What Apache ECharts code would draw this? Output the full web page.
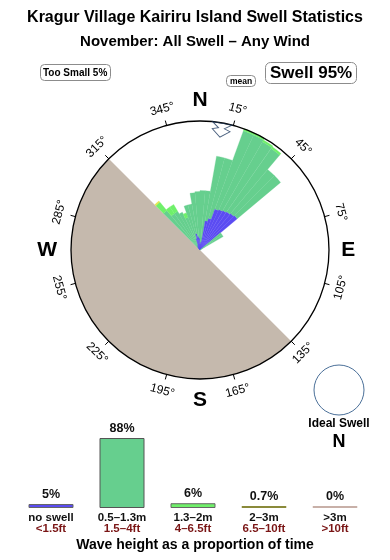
<!DOCTYPE html>
<html><head><meta charset="utf-8">
<script src="https://cdn.jsdelivr.net/npm/echarts@6.0.0/dist/echarts.min.js"></script>
<style>html,body{margin:0;padding:0;background:#fff}#main{width:390px;height:560px}</style>
</head><body><div id="main"></div>
<script>
// ---------------- data ----------------
const titleLines = ['Kragur Village Kairiru Island Swell Statistics', 'November: All Swell \u2013 Any Wind'];
// swell direction bins (start of each 5 degree bin, compass degrees)
const binWidth = 5;
const dirBins      = [315,320,325,330,335,340,345,350,355,  0,  5, 10, 15, 20, 25, 30, 35, 40, 45, 50, 55];
const noSwell      = [  0,  3,  4,  5,  6, 12, 17, 14, 12,  6,  8, 30, 33, 44, 45, 46, 47, 48, 49,  0,  0];
const swell05to13  = [ 52, 42, 41, 37, 29, 35, 30, 44, 47, 54, 52, 66, 63, 84, 83, 80, 78, 58, 57, 27, 27];
const swell13to2   = [ 11,  8,  8,  0,  5,  0,  0,  0,  0,  0,  0,  0,  0,  2,  2,  2,  2,  0,  0,  0,  0];
const swell2to3    = [1.5,  0,  0,  0,  0,  0,  0,  0,  0,  0,  0,  0,  0,  0,  0,  0,  0,  0,  0,  0,  0];
const swell3plus   = [  0,  0,  0,  0,  0,  0,  0,  0,  0,  0,  0,  0,  0,  0,  0,  0,  0,  0,  0,  0,  0];
const roseMax = 130;
const meanDir = 10;
const landSector = [135, 315];           // shadowed directions (clockwise from..to)
const tickDirs = [15,45,75,105,135,165,195,225,255,285,315,345];
const cardinalNames = ['N','E','S','W'];
const cardinalDirs  = [0, 90, 180, 270];
// wave height summary
const heightClasses = ['no swell','0.5\u20131.3m','1.3\u20132m','2\u20133m','>3m'];
const heightFeet    = ['<1.5ft','1.5\u20134ft','4\u20136.5ft','6.5\u201310ft','>10ft'];
const heightPct     = [5, 88, 6, 0.7, 0];
const idealSwellDir = 'N';

// ---------------- chart ----------------
const FONT = '"Liberation Sans", Arial, Helvetica, sans-serif';
const C = [200, 250], R = 129;
const roseColors = ['#5b4cf2', '#66cf8e', '#6ff06a', '#e4e64a', '#c8b0a8'];
const classes = [noSwell, swell05to13, swell13to2, swell2to3, swell3plus];
// stacked radial segments: [binStart, lower, upper, classIndex]
const roseData = [];
dirBins.forEach((d, i) => {
  let acc = 0;
  classes.forEach((arr, k) => {
    const v = arr[i];
    if (v > 0) roseData.push([d, acc, acc + v, k]);
    acc += v;
  });
});
const legendColors  = ['#5b4cf2', '#66cf8e', '#6ff06a', '#8a8a3a', '#c8b0a8'];
const legendBorders = ['#666666', '#555555', '#666666', '#8a8a3a', '#c8b0a8'];
const landSpan = (landSector[1] - landSector[0] + 360) % 360;

function renderRose(params, api) {
  const cs = params.coordSys;
  const a0 = api.value(0), lo = api.value(1), hi = api.value(2), k = api.value(3);
  const pa = api.coord([roseMax, a0]);
  const pb = api.coord([roseMax, a0 + binWidth]);
  const pl = api.coord([lo, a0 + binWidth / 2]);
  const ph = api.coord([hi, a0 + binWidth / 2]);
  const r0 = Math.hypot(pl[0] - cs.cx, pl[1] - cs.cy);
  const r1 = Math.hypot(ph[0] - cs.cx, ph[1] - cs.cy);
  const s = Math.atan2(pa[1] - cs.cy, pa[0] - cs.cx);
  let e = Math.atan2(pb[1] - cs.cy, pb[0] - cs.cx);
  if (e < s) e += 2 * Math.PI;
  return {
    type: 'sector',
    shape: { cx: cs.cx, cy: cs.cy, r0: r0, r: r1, startAngle: s, endAngle: e, clockwise: true },
    style: { fill: roseColors[k], stroke: roseColors[k], lineWidth: 0.3 }
  };
}

const T = (o) => Object.assign({ color: '#000', fontFamily: FONT, fontWeight: 'bold' }, o);
const option = {
  animation: false,
  textStyle: { fontFamily: FONT },
  title: [
    { text: titleLines[0], left: 'center', top: 10, padding: 0, textStyle: T({ fontSize: 16 }) },
    { text: titleLines[1], left: 'center', top: 34, padding: 0, textStyle: T({ fontSize: 15 }) },
    { text: 'Too Small ' + heightPct[0] + '%', left: 40, top: 64, padding: [4, 3, 3, 3], borderColor: '#8c8c8c', borderWidth: 1, borderRadius: 4, textStyle: T({ fontSize: 10 }) },
    { text: 'mean', left: 226, top: 75, padding: [2, 4, 1, 4], borderColor: '#8c8c8c', borderWidth: 1, borderRadius: 4, textStyle: T({ fontSize: 8.5 }) },
    { text: 'Swell ' + (100 - heightPct[0]) + '%', left: 265, top: 62, padding: [3, 5, 2, 5], borderColor: '#8c8c8c', borderWidth: 1, borderRadius: 5, textStyle: T({ fontSize: 17 }) },
    { text: 'Ideal Swell', left: 339, textAlign: 'center', top: 418, padding: 0, textStyle: T({ fontSize: 12 }) },
    { text: idealSwellDir, left: 339, textAlign: 'center', top: 433, padding: 0, textStyle: T({ fontSize: 18 }) },
    { text: 'Wave height as a proportion of time', left: 'center', top: 538, padding: 0, textStyle: T({ fontSize: 14 }) }
  ],
  polar: [
    { center: C, radius: R },
    { center: C, radius: R },
    { center: C, radius: R },
    { center: [339, 390], radius: 25 }
  ],
  angleAxis: [
    { polarIndex: 0, type: 'value', min: 0, max: 360, startAngle: 90, clockwise: true, z: 6,
      axisLine: { lineStyle: { color: '#000', width: 1.3 } }, axisTick: { show: false }, axisLabel: { show: false }, splitLine: { show: false } },
    { polarIndex: 1, type: 'value', min: 0, max: 360, startAngle: 90, clockwise: true, show: false },
    { polarIndex: 2, type: 'value', min: 0, max: 360, interval: 30, startAngle: 90 - tickDirs[0], clockwise: true, z: 6,
      axisLine: { show: false }, axisTick: { show: true, length: 5, lineStyle: { color: '#000', width: 1 } }, axisLabel: { show: false }, splitLine: { show: false } },
    { polarIndex: 3, type: 'value', min: 0, max: 360, startAngle: 90, z: 6,
      axisLine: { lineStyle: { color: '#4a6f98', width: 1 } }, axisTick: { show: false }, axisLabel: { show: false }, splitLine: { show: false } }
  ],
  radiusAxis: [
    { polarIndex: 0, type: 'value', min: 0, max: roseMax, show: false },
    { polarIndex: 1, type: 'value', min: 0, max: 1, show: false },
    { polarIndex: 2, type: 'value', min: 0, max: 1, show: false },
    { polarIndex: 3, type: 'value', min: 0, max: 1, show: false }
  ],
  grid: { left: 15.5, right: 19.5, top: 438, bottom: 52 },
  xAxis: {
    type: 'category', data: heightClasses, axisLine: { show: false }, axisTick: { show: false },
    axisLabel: {
      margin: 4, interval: 0,
      formatter: (v, i) => '{m|' + v + '}\n{f|' + heightFeet[i] + '}',
      rich: {
        m: { fontSize: 11.5, fontWeight: 'bold', color: '#111', lineHeight: 11.5, fontFamily: FONT },
        f: { fontSize: 11.5, fontWeight: 'bold', color: '#7a1515', lineHeight: 11.5, fontFamily: FONT }
      }
    }
  },
  yAxis: { type: 'value', min: 0, max: 88, show: false },
  series: [
    { type: 'pie', center: C, radius: [0, R], startAngle: 90 - landSector[0], clockwise: true, silent: true, z: 1,
      label: { show: false }, labelLine: { show: false }, emphasis: { disabled: true },
      itemStyle: { borderWidth: 0 },
      data: [ { value: landSpan, itemStyle: { color: '#c5b9ad' } }, { value: 360 - landSpan, itemStyle: { color: 'rgba(0,0,0,0)' } } ] },
    { type: 'custom', coordinateSystem: 'polar', polarIndex: 0, silent: true, z: 3,
      data: roseData, encode: { radius: [1, 2], angle: 0 }, renderItem: renderRose },
    { type: 'scatter', coordinateSystem: 'polar', polarIndex: 1, silent: true, z: 7,
      data: [[0.943, meanDir]],
      symbol: 'path://M0,0 L7,5 L1,7 L10,14 L19,7 L13,5 L20,0 Z', symbolSize: [20, 14], symbolRotate: -meanDir,
      itemStyle: { color: 'rgba(255,255,255,0)', borderColor: '#1e3a5f', borderWidth: 1 } },
    { type: 'bar', xAxisIndex: 0, yAxisIndex: 0, barWidth: 45, barMinHeight: 2, silent: true,
      data: heightPct.map((v, i) => ({ value: v, itemStyle: { color: legendColors[i], borderColor: legendBorders[i], borderWidth: 1 } })),
      label: { show: true, position: 'top', distance: 3, formatter: (p) => heightPct[p.dataIndex] + '%',
               fontSize: 12.5, fontWeight: 'bold', color: '#111', fontFamily: FONT } }
  ]
};

const chart = echarts.init(document.getElementById('main'), null, { renderer: 'canvas' });
chart.setOption(option);

const gfx = [];
tickDirs.forEach((d) => {
  const p = chart.convertToPixel({ polarIndex: 1 }, [1.13, d]);
  let r = d;
  if (r > 90 && r < 270) r -= 180; else if (r >= 270) r -= 360;
  gfx.push({ type: 'text', x: p[0], y: p[1], rotation: -r * Math.PI / 180, silent: true,
    style: { text: d + '\u00b0', fill: '#000', fontSize: 12, fontFamily: FONT,
             align: 'center', verticalAlign: 'middle', textAlign: 'center', textVerticalAlign: 'middle' } });
});
const cardR = [1.16, 1.15, 1.165, 1.185];
cardinalNames.forEach((n, i) => {
  const p = chart.convertToPixel({ polarIndex: 1 }, [cardR[i], cardinalDirs[i]]);
  gfx.push({ type: 'text', x: p[0], y: p[1], silent: true,
    style: { text: n, fill: '#000', fontSize: 21, fontWeight: 'bold', fontFamily: FONT,
             align: 'center', verticalAlign: 'middle', textAlign: 'center', textVerticalAlign: 'middle' } });
});
chart.setOption({ graphic: gfx });
</script></body></html>
